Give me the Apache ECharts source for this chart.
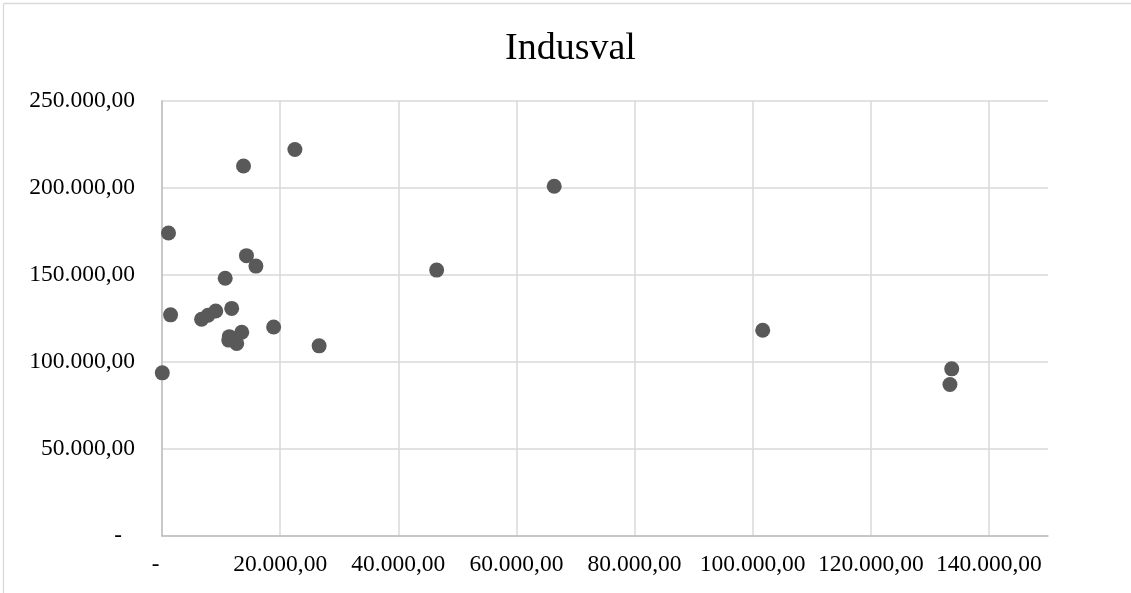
<!DOCTYPE html>
<html>
<head>
<meta charset="utf-8">
<script src="https://cdn.jsdelivr.net/npm/echarts@6/dist/echarts.min.js"></script>
<style>
html,body{margin:0;padding:0;background:#fff;}
#chart{width:1131px;height:593px;}
</style>
</head>
<body>
<div id="chart"></div>
<script>
const chartTitle = 'Indusval';
const xValues = [50, 1100, 1450, 6700, 7800, 9100, 10700, 11800, 11400, 11300, 12650, 13500, 13800, 14300, 15900, 18900, 22500, 26600, 46500, 66400, 101700, 133700, 133400];
const yValues = [93700, 174000, 127000, 124500, 126800, 129200, 148000, 130700, 114500, 112500, 110600, 117000, 212500, 161000, 155000, 120000, 222000, 109200, 152700, 200900, 118200, 96000, 87000];
const xTicks = [0, 20000, 40000, 60000, 80000, 100000, 120000, 140000];
const yTicks = [0, 50000, 100000, 150000, 200000, 250000];

function fmt(v) {
  if (v === 0) return '{d|-}';
  const s = Math.round(v).toString().replace(/\B(?=(\d{3})+(?!\d))/g, '.');
  return s + ',00';
}

const points = xValues.map((x, i) => [x, yValues[i]]);
const font = '"Liberation Serif", "Times New Roman", serif';

const chart = echarts.init(document.getElementById('chart'));
chart.setOption({
  animation: false,
  backgroundColor: '#fff',
  graphic: [
    { type: 'line', shape: { x1: 3.5, y1: 3.5, x2: 1131, y2: 3.5 }, style: { stroke: '#d9d9d9', lineWidth: 1.3 }, silent: true },
    { type: 'line', shape: { x1: 3.5, y1: 3.5, x2: 3.5, y2: 593 }, style: { stroke: '#d9d9d9', lineWidth: 1.3 }, silent: true }
  ],
  title: {
    text: chartTitle,
    left: 500,
    top: 25,
    textStyle: { fontFamily: font, fontSize: 38, fontWeight: 'normal', color: '#000' }
  },
  grid: { left: 162, right: 83, top: 100.7, bottom: 57, containLabel: false },
  xAxis: {
    type: 'value',
    min: 0,
    max: 150000,
    interval: 20000,
    axisLine: { show: true, lineStyle: { color: '#bfbfbf', width: 1.5 } },
    axisTick: { show: false },
    splitLine: { show: true, showMaxLine: false, lineStyle: { color: '#d9d9d9', width: 1.5 } },
    axisLabel: {
      showMaxLabel: false,
      margin: 17,
      fontFamily: font, fontSize: 23.5, color: '#000',
      formatter: v => (xTicks.indexOf(v) >= 0 ? fmt(v) : ''),
      rich: { d: { fontFamily: font, fontSize: 23, color: '#000', padding: [0, 13, 0, 0] } }
    }
  },
  yAxis: {
    type: 'value',
    min: 0,
    max: 250000,
    interval: 50000,
    axisLine: { show: true, lineStyle: { color: '#bfbfbf', width: 1.5 } },
    axisTick: { show: false },
    splitLine: { show: true, lineStyle: { color: '#d9d9d9', width: 1.5 } },
    axisLabel: {
      margin: 27,
      fontFamily: font, fontSize: 23.5, color: '#000',
      formatter: v => (yTicks.indexOf(v) >= 0 ? fmt(v) : ''),
      rich: { d: { fontFamily: font, fontSize: 23, color: '#000', padding: [0, 13, 0, 0] } }
    }
  },
  series: [{
    type: 'scatter',
    data: points,
    symbol: 'circle',
    symbolSize: 15,
    itemStyle: { color: '#595959', opacity: 1 }
  }]
});
</script>
</body>
</html>
